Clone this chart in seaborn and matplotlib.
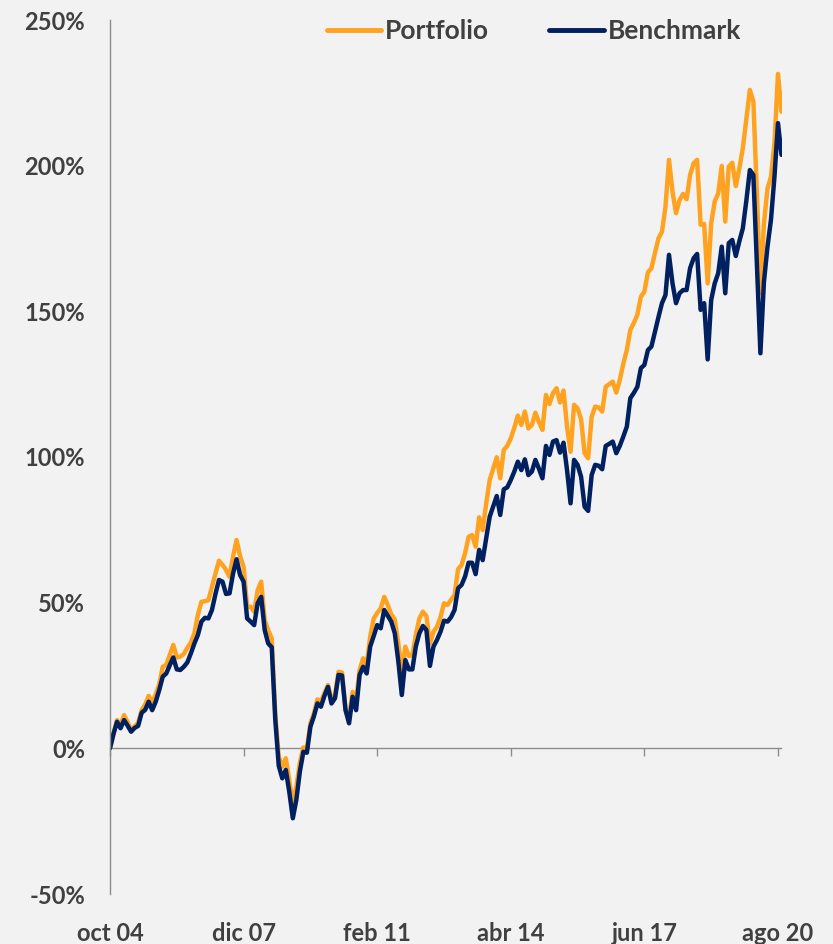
import numpy as np
import pandas as pd
import seaborn as sns
import matplotlib.pyplot as plt

# monthly cumulative returns (%), oct 2004 - sep 2020
portfolio = [0, 5, 9.7, 8, 11.4, 9, 6.3, 7.5, 8.8, 13.1,
             15, 18.0, 15.7, 18.5, 22, 28.0, 28.6, 32, 35.5, 31.2,
             31.5, 32.4, 34.5, 36.3, 39.5, 45.8, 50.3, 50.5, 50.9, 55.5,
             60, 64.4, 63, 61.2, 58.9, 65.8, 71.5, 66.0, 62.3, 48.6,
             48.6, 46.9, 54.3, 57.2, 44, 40.5, 37.8, 12, -3, -6.3,
             -3.4, -11, -18.9, -13.2, -5, 0.3, 0, 8.6, 12, 16.8,
             16.0, 19, 21.7, 16.6, 18.3, 26.3, 26, 13.1, 10.3, 19.4,
             16.6, 26.9, 30.9, 28.6, 38.3, 44.5, 46.5, 48, 52, 49.2,
             46, 44.3, 36, 26.3, 34.9, 31.7, 32, 39, 44.6, 46.9,
             45.4, 36.0, 40, 41.7, 45, 49.8, 49.2, 51, 52.6, 61.5,
             62.9, 67, 72.6, 73.2, 69.2, 79.3, 74.9, 84, 92.1, 96,
             99.9, 92.7, 102.4, 103.8, 106.4, 110, 114.2, 111.0, 115.6, 109.8,
             111.0, 115.2, 112, 109.3, 121.3, 118.2, 121.9, 123.6, 118.7, 122.8,
             110.4, 101.8, 117.9, 116.7, 112.9, 101.3, 99.6, 113.8, 117.3, 117,
             115.6, 124.1, 125, 125.9, 122.1, 126.4, 132, 136.7, 143.6, 146,
             148.8, 155.0, 156.8, 163.4, 164.8, 170, 175, 177.3, 185.9, 202.0,
             191.1, 183.7, 188.2, 190.3, 188.5, 196.8, 200.8, 202.0, 179.7, 180.0,
             159.6, 180.2, 187.7, 190.5, 199.9, 180.8, 199.7, 201.0, 193.0, 199,
             206.0, 216, 226.0, 222.0, 190.5, 156.2, 180, 192, 196.2, 207.7,
             231.5, 218.5]

benchmark = [0, 5, 9.1, 6.9, 9.7, 7.8, 5.7, 7, 7.7, 12.2,
             13.2, 16.0, 13.1, 16, 20, 24.6, 25.7, 28.5, 31.2, 27.1,
             26.9, 28, 29.5, 32.6, 36, 38.9, 43.5, 44.8, 44.6, 47.5,
             53, 57.8, 57.2, 53.0, 53.2, 60, 64.9, 59.5, 57.2, 44.6,
             43.5, 42.3, 49.8, 52.0, 40.6, 36.0, 34.7, 10, -6, -10.3,
             -7.4, -15, -24.0, -17.7, -8, -1.2, -1.5, 7.4, 11, 15.4,
             14.3, 18, 21.1, 15.4, 17.2, 25.2, 25.0, 13.1, 8.6, 17.7,
             13.1, 25.2, 28.0, 25.7, 34.9, 38.5, 42.3, 41.2, 47.5, 45.5,
             43.5, 39.5, 30, 18.3, 30.3, 27.1, 27.1, 35, 39.5, 42.0,
             40.6, 28.3, 34.9, 37.2, 40, 43.8, 43.5, 45, 47.5, 54.9,
             56.1, 59, 63.7, 63.7, 59.8, 68.1, 64.6, 72, 79.5, 83,
             86.6, 80.1, 88.9, 89.6, 92.1, 95, 98.4, 95.5, 99.2, 93.8,
             95.0, 99.0, 96, 92.7, 103.8, 100.7, 105.3, 105.8, 101.5, 104.9,
             95.5, 84.1, 99.0, 97.3, 93.2, 82.9, 81.5, 93.8, 97.3, 97,
             95.8, 103.8, 104.5, 105.3, 101.3, 103.8, 107, 110.4, 120.2, 122,
             124.1, 130.5, 131.6, 136.7, 137.9, 143, 148, 152.8, 155.6, 169.4,
             159.6, 152.8, 156.2, 157.3, 157.3, 164.8, 168.2, 169.7, 150.5, 152.8,
             133.5, 153.9, 159.6, 163.1, 172.2, 156.2, 173.4, 174.5, 169.0, 174,
             178.5, 188, 198.5, 196.8, 166, 135.6, 160, 172, 181.4, 196.2,
             214.6, 203.7]

tick_months = ["2004-10", "2007-12", "2011-02", "2014-04", "2017-06", "2020-08"]
tick_labels = ["oct 04", "dic 07", "feb 11", "abr 14", "jun 17", "ago 20"]
y_ticks = [-50, 0, 50, 100, 150, 200, 250]

dates = pd.date_range("2004-10-01", periods=len(portfolio), freq="MS")
month_idx = np.arange(len(dates))
tick_pos = [dates.get_loc(pd.Timestamp(m + "-01")) for m in tick_months]

df = pd.DataFrame({
    "month": np.concatenate([month_idx, month_idx]),
    "value": portfolio + benchmark,
    "series": ["Portfolio"] * len(portfolio) + ["Benchmark"] * len(benchmark),
})

sns.set_theme(style="white")
plt.rcParams["font.family"] = ["Lato", "DejaVu Sans"]
plt.rcParams["font.weight"] = "bold"

bg = "#F2F2F2"
axis_col = "#8C8C8C"
text_col = "#404040"
colors = {"Portfolio": "#FFA21F", "Benchmark": "#00205F"}

fig = plt.figure(figsize=(8.33, 9.44), dpi=100, facecolor=bg)
ax = fig.add_axes([110 / 833, 1 - 894 / 944, (781.5 - 110) / 833, (894 - 20) / 944])
ax.set_facecolor(bg)

sns.lineplot(data=df, x="month", y="value", hue="series", palette=colors,
             hue_order=["Portfolio", "Benchmark"], linewidth=3.2, ax=ax,
             legend=False)

ax.set_xlim(0, len(portfolio) - 1)
ax.set_ylim(-50, 250)
ax.set_yticks(y_ticks)
ax.set_yticklabels([f"{v}%" for v in y_ticks])
ax.set_xticks(tick_pos)
ax.set_xticklabels(tick_labels)
ax.set_xlabel("")
ax.set_ylabel("")

for s in ["top", "right", "bottom"]:
    ax.spines[s].set_visible(False)
ax.spines["left"].set_color(axis_col)
ax.spines["left"].set_linewidth(1.0)

ax.tick_params(axis="y", length=4, width=1.0, color=axis_col, pad=14,
               labelsize=17, labelcolor=text_col)
ax.tick_params(axis="x", length=0, pad=20, labelsize=17, labelcolor=text_col)
for lab in ax.get_xticklabels() + ax.get_yticklabels():
    lab.set_fontweight("bold")

# zero line with tick marks (labels stay at the bottom)
zero_frac = (0 - (-50)) / (250 - (-50))
sec = ax.secondary_xaxis(zero_frac)
sec.set_xticks(tick_pos)
sec.tick_params(axis="x", length=6, width=1.0, color=axis_col, labelbottom=False,
                labeltop=False)
sec.spines["bottom"].set_color(axis_col)
sec.spines["bottom"].set_linewidth(1.0)
sec.spines["top"].set_visible(False)

handles = [plt.Line2D([], [], color=colors[k], lw=3.5) for k in ["Portfolio", "Benchmark"]]
leg = fig.legend(handles, ["Portfolio", "Benchmark"], loc="center", ncol=2,
                 bbox_to_anchor=(534 / 833, 1 - 31 / 944), frameon=False,
                 handlelength=2.08, handletextpad=0.15, columnspacing=2.27,
                 borderpad=0, prop={"size": 19, "weight": "bold"})
for t in leg.get_texts():
    t.set_color(text_col)

fig.savefig("out.png", dpi=100, facecolor=bg)
